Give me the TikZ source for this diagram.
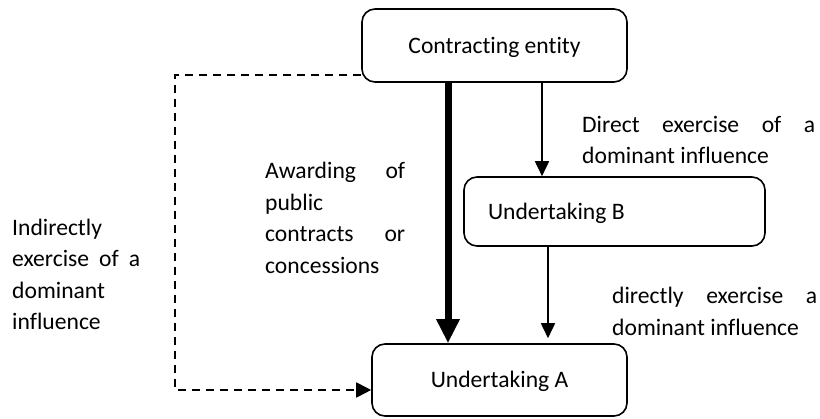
\documentclass[tikz,border=0pt]{standalone}
\usepackage{fontspec}
\setmainfont{Carlito}[Ligatures=NoCommon]
\usetikzlibrary{arrows.meta}
\tolerance=10000
\hbadness=10000
\tikzset{
  txt/.style={font=\fontsize{23.6}{31.5}\selectfont},
  box/.style={txt, draw, line width=1.6pt, rounded corners=13pt, inner sep=0pt,
    text height=20pt, text depth=4pt},
  lbl/.style={txt, anchor=north west, inner sep=0pt, align=justify},
  link/.style={line width=1.8pt, -{Triangle[length=15pt,width=14pt]}},
  award/.style={line width=7pt, -{Triangle[length=24pt,width=22pt]}},
  indirect/.style={line width=1.8pt, dash pattern=on 8pt off 6pt,
    -{Triangle[length=15pt,width=15pt]}},
}
\begin{document}
\begin{tikzpicture}[x=1pt,y=-1pt]
\useasboundingbox (0,0) rectangle (820,419);

% entities
\node[box, minimum width=265pt, minimum height=73pt] (ce) at (494.5,45.5) {Contracting entity};
\node[box, minimum width=301pt, minimum height=69pt, text width=253pt, align=flush left,
      inner xsep=24pt] (ub) at (614.5,211.5) {Undertaking B};
\node[box, minimum width=255pt, minimum height=72pt] (ua) at (499.5,380) {Undertaking A};

% helper points for the connectors
\coordinate (xaw) at (448,0);
\coordinate (xce) at (542,0);
\coordinate (xub) at (548,0);
\coordinate (dtop) at (175,75);
\coordinate (dbot) at (175,390);

% connectors
\draw[award] (ce.south -| xaw) -- (ua.north -| xaw);
\draw[link] (ce.south -| xce) -- (ub.north -| xce);
\draw[link, shorten >=5pt] (ub.south -| xub) -- (ua.north -| xub);
\draw[indirect] (ce.west |- dtop) -- (dtop) -- (dbot) -- (ua.west |- dbot);

% labels
\node[lbl, text width=233pt] (tdirect) at (582,110)
  {\strut Direct exercise of a\linebreak dominant influence};
\node[lbl, text width=140pt] (taward) at (265,156.5)
  {\strut Awarding of\linebreak public\linebreak contracts or\linebreak concessions};
\node[lbl, text width=128pt] (tindirect) at (12,213)
  {\strut Indirectly\linebreak exercise of a\linebreak dominant\linebreak influence};
\node[lbl, text width=205pt] (tdirectly) at (612,281.5)
  {\strut directly exercise a\linebreak dominant influence};
\end{tikzpicture}
\end{document}
